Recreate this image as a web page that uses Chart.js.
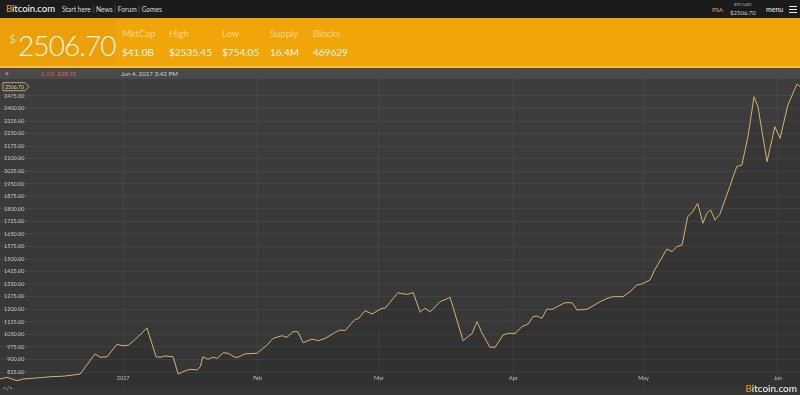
<!DOCTYPE html>
<html>
<head>
<meta charset="utf-8">
<script src="https://cdn.jsdelivr.net/npm/chart.js@4/dist/chart.umd.min.js"></script>
<style>
  body { margin: 0; width: 800px; height: 395px; overflow: hidden; background: #363636; font-family: Lato, "Open Sans", sans-serif; position: relative; }
  .abs { position: absolute; white-space: nowrap; }
  #nav { left: 0; top: 0; width: 800px; height: 18px; background: #1b1b1b; border-bottom: 1px solid #e9a20c; }
  #band { left: 0; top: 19px; width: 800px; height: 47px; background: #f0a608; border-bottom: 2px solid #f7bf45; }
  #bandLeft { left: 0; top: 0; width: 116px; height: 47px; background: #eba00a; }
  #sub { left: 0; top: 68px; width: 800px; height: 11px; background: #4a4a4a; }
  #chartBox { left: 0; top: 79px; width: 800px; height: 309px; background: linear-gradient(to bottom, #3d3d3d, #363636); }
  .lbl { font-size: 9.5px; color: #fbd48a; }
  .val { font-size: 10px; color: #fff8ea; }
</style>
</head>
<body>
<div id="nav" class="abs">
  <div class="abs" style="left:6px;top:3px;font-size:9.5px;color:#fff;"><span style="color:#f7a600">B</span>itcoin.com</div>
  <div class="abs" style="left:62px;top:5px;font-size:6.7px;color:#ddd;">Start here <span style="color:#777">|</span> News <span style="color:#777">|</span> Forum <span style="color:#777">|</span> Games</div>
  <div class="abs" style="left:712px;top:6px;font-size:6px;color:#e9a13b;">PSA</div>
  <div class="abs" style="left:734px;top:2px;font-size:4px;color:#bbb;">BTC/USD</div>
  <div class="abs" style="left:730px;top:9px;font-size:6px;color:#ccc;">$2506.70</div>
  <div class="abs" style="left:766px;top:5px;font-size:7px;color:#eee;">menu</div>
  <div class="abs" style="left:789px;top:6px;width:8px;height:1px;background:#eee;box-shadow:0 3px 0 #eee,0 6px 0 #eee;"></div>
</div>
<div id="band" class="abs">
  <div id="bandLeft" class="abs"></div>
  <div class="abs" style="left:9px;top:12px;font-size:12px;color:#fff6e0;font-weight:300;">$</div>
  <div class="abs" style="left:18px;top:9px;font-size:28px;letter-spacing:-0.9px;color:#fff6e0;font-weight:300;">2506.70</div>
  <div class="abs lbl" style="left:122px;top:9px;">MktCap</div>
  <div class="abs val" style="left:122px;top:27px;">$41.0B</div>
  <div class="abs lbl" style="left:169px;top:9px;">High</div>
  <div class="abs val" style="left:169px;top:27px;">$2535.45</div>
  <div class="abs lbl" style="left:222px;top:9px;">Low</div>
  <div class="abs val" style="left:222px;top:27px;">$754.05</div>
  <div class="abs lbl" style="left:270px;top:9px;">Supply</div>
  <div class="abs val" style="left:270px;top:27px;">16.4M</div>
  <div class="abs lbl" style="left:313px;top:9px;">Blocks</div>
  <div class="abs val" style="left:313px;top:27px;">469629</div>
</div>
<div id="sub" class="abs">
  <div class="abs" style="left:5px;top:1px;font-size:7px;color:#e8704f;">&#9662;</div>
  <div class="abs" style="left:41px;top:2px;font-size:6px;color:#e0604a;">1.1%&nbsp;&nbsp;$28.75</div>
  <div class="abs" style="left:121px;top:2px;font-size:6.2px;color:#cfcfcf;">Jun 4, 2017 3:42 PM</div>
</div>
<div id="chartBox" class="abs"><canvas id="priceChart" width="800" height="309"></canvas></div>
<div class="abs" style="left:3px;top:384px;font-size:6px;color:#bbb;">&lt;/&gt;</div>
<div class="abs" style="right:3px;top:382px;font-size:10px;color:#fff;"><span style="color:#f7a600">B</span>itcoin.com</div>

<script>
// days counted from Jan 1 2017 (negative = Dec 2016)
const days = [-28.4, -26.8, -24.5, -23.1, -19.1, -16.8, -13.8, -11.5, -9.9, -6.5, -5.3, -3.7, -1.4, -0.2,
  1.2, 2.8, 5.5, 7.6, 8.5, 9.7, 11.5, 12.7, 13.8, 15.4, 17.1, 17.8, 18.4, 19.6, 20.7, 21.7, 23.1, 24.2,
  25.8, 26.5, 28.1, 30.9, 33.2, 34.6, 36.7, 37.8, 39.2, 40.3, 41.5, 43.6, 45.0, 46.6, 48.9, 50.0, 51.2,
  53.5, 54.2, 55.8, 57.4, 59.7, 60.4, 63.4, 63.9, 65.5, 66.9, 68.5, 69.6, 70.8, 73.1, 75.4, 78.4, 80.5,
  81.6, 82.8, 84.6, 85.8, 87.6, 88.8, 90.4, 92.0, 93.4, 94.5, 95.4, 96.6, 97.7, 99.1, 100.0, 101.9, 103.5,
  104.7, 107.0, 110.0, 111.6, 113.0, 115.3, 116.9, 118.5, 119.6, 121.5, 122.6, 125.4, 126.6, 127.7, 128.9,
  130.2, 131.2, 132.5, 133.7, 134.6, 135.5, 136.5, 137.6, 139.9, 141.5, 142.7, 144.1, 145.5, 146.4, 148.5,
  150.3, 151.5, 153.3, 155.4, 156.1];

const prices = [783, 793, 773, 783, 791, 797, 800, 807, 813, 933, 913, 916, 991, 982,
  985, 1020, 1088, 916, 913, 921, 916, 813, 827, 841, 837, 857, 916, 901, 913, 907, 940, 937,
  913, 913, 933, 937, 986, 1026, 1042, 1032, 1066, 1066, 1000, 1022, 1012, 1026, 1062, 1076, 1072,
  1140, 1142, 1191, 1172, 1206, 1206, 1299, 1295, 1289, 1299, 1182, 1206, 1185, 1245, 1271, 1012, 1056,
  1126, 1056, 973, 973, 1046, 1056, 1056, 1096, 1112, 1155, 1160, 1146, 1200, 1200, 1215, 1239, 1239,
  1195, 1200, 1245, 1265, 1275, 1275, 1305, 1345, 1351, 1375, 1435, 1560, 1544, 1574, 1584,
  1753, 1777, 1833, 1714, 1773, 1793, 1733, 1767, 1932, 2052, 2062, 2231, 2470, 2410, 2082,
  2291, 2221, 2420, 2546, 2530];

const monthDays = [0, 31, 59, 90, 120, 151];
const monthLabels = ["2017", "Feb", "Mar", "Apr", "May", "Jun"];
const yTicks = [825, 900, 975, 1050, 1125, 1200, 1275, 1350, 1425, 1500, 1575, 1650, 1725, 1800,
  1875, 1950, 2025, 2100, 2175, 2250, 2325, 2400, 2475];
const lastLabel = "2506.70";

Chart.defaults.font.family = "Lato, 'Open Sans', sans-serif";

// little flag on the left showing the last price
const lastPriceFlag = {
  id: "lastPriceFlag",
  afterDraw(chart) {
    const ctx = chart.ctx;
    const y = chart.scales.y.getPixelForValue(prices[prices.length - 1]);
    ctx.save();
    ctx.beginPath();
    ctx.moveTo(3, y - 4);
    ctx.lineTo(25, y - 4);
    ctx.lineTo(29, y);
    ctx.lineTo(25, y + 4);
    ctx.lineTo(3, y + 4);
    ctx.closePath();
    ctx.fillStyle = "#3a3a3a";
    ctx.fill();
    ctx.strokeStyle = "#c9a36a";
    ctx.lineWidth = 1;
    ctx.stroke();
    ctx.fillStyle = "#e8d6b0";
    ctx.font = "5px Lato";
    ctx.textAlign = "center";
    ctx.textBaseline = "middle";
    ctx.fillText(lastLabel, 14.5, y + 0.5);
    ctx.restore();
  }
};

new Chart(document.getElementById("priceChart").getContext("2d"), {
  type: "line",
  data: {
    datasets: [{
      data: days.map((d, i) => ({ x: d, y: prices[i] })),
      borderColor: "#d8b26a",
      borderWidth: 1,
      backgroundColor: "rgba(0,0,0,0.08)",
      fill: "start",
      pointRadius: 0,
      tension: 0
    }]
  },
  options: {
    responsive: false,
    animation: false,
    layout: { padding: 0 },
    plugins: {
      legend: { display: false },
      tooltip: { enabled: false }
    },
    scales: {
      x: {
        type: "linear",
        min: -28.4,
        max: 156.1,
        afterBuildTicks: axis => { axis.ticks = monthDays.map(v => ({ value: v })); },
        afterFit: axis => { axis.height = 0; axis.paddingLeft = 0; axis.paddingRight = 0; },
        ticks: {
          mirror: true,
          padding: 6,
          color: "#cfcfcf",
          font: { size: 5.5 },
          maxRotation: 0,
          autoSkip: false,
          callback: (value, index) => monthLabels[index]
        },
        grid: { color: "rgba(255,255,255,0.05)", drawTicks: false },
        border: { display: false }
      },
      y: {
        min: 729.4,
        max: 2576,
        afterBuildTicks: axis => { axis.ticks = yTicks.map(v => ({ value: v })); },
        afterFit: axis => { axis.width = 0; axis.paddingTop = 0; axis.paddingBottom = 0; },
        ticks: {
          mirror: true,
          crossAlign: "far",
          padding: 4,
          color: "#c8c8c8",
          font: { size: 5.5 },
          callback: value => value.toFixed(2)
        },
        grid: { color: "rgba(255,255,255,0.06)", drawTicks: false },
        border: { display: false }
      }
    }
  },
  plugins: [lastPriceFlag]
});
</script>
</body>
</html>
